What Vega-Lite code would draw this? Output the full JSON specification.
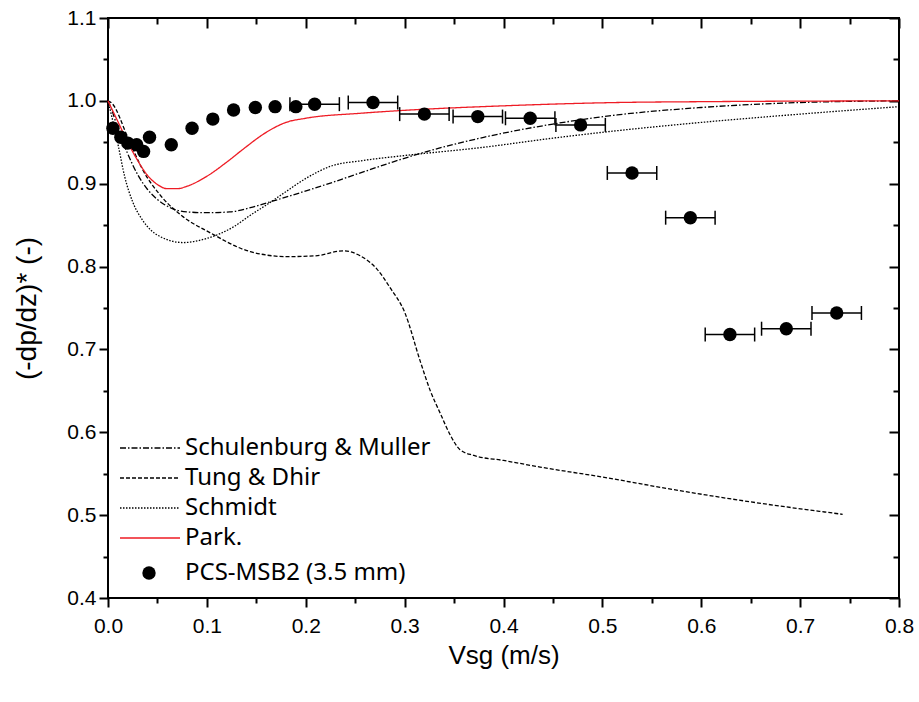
{
  "$schema": "https://vega.github.io/schema/vega-lite/v6.json",
  "width": 791,
  "height": 580,
  "autosize": {"type": "none"},
  "padding": {"left": 108, "top": 18, "right": 20, "bottom": 104},
  "background": "white",
  "config": {
    "view": {"stroke": "black", "strokeWidth": 2},
    "axis": {
      "grid": false,
      "domain": false,
      "labelFlush": false,
      "tickColor": "black",
      "tickWidth": 2,
      "labelColor": "black",
      "labelFont": "Liberation Sans Narrow, Liberation Sans, Arial",
      "labelFontSize": 21,
      "titleFont": "Liberation Sans Narrow, Liberation Sans, Arial",
      "titleFontSize": 26,
      "titleFontWeight": "normal",
      "titleColor": "black"
    },
    "legend": {
      "labelFont": "Noto Sans", "labelFontSize": 24, "labelColor": "black", "labelLimit": 400, "padding": 0
    }
  },
  "datasets": {
    "curves": [
      {"s": "Schulenburg & Muller", "x": 0.0, "y": 1.0},
      {"s": "Schulenburg & Muller", "x": 0.005, "y": 0.985},
      {"s": "Schulenburg & Muller", "x": 0.01, "y": 0.966},
      {"s": "Schulenburg & Muller", "x": 0.02, "y": 0.936},
      {"s": "Schulenburg & Muller", "x": 0.03, "y": 0.911},
      {"s": "Schulenburg & Muller", "x": 0.04, "y": 0.893},
      {"s": "Schulenburg & Muller", "x": 0.05, "y": 0.881},
      {"s": "Schulenburg & Muller", "x": 0.063, "y": 0.871},
      {"s": "Schulenburg & Muller", "x": 0.08, "y": 0.866},
      {"s": "Schulenburg & Muller", "x": 0.1, "y": 0.865},
      {"s": "Schulenburg & Muller", "x": 0.123, "y": 0.866},
      {"s": "Schulenburg & Muller", "x": 0.144, "y": 0.871},
      {"s": "Schulenburg & Muller", "x": 0.161, "y": 0.877},
      {"s": "Schulenburg & Muller", "x": 0.194, "y": 0.889},
      {"s": "Schulenburg & Muller", "x": 0.228, "y": 0.902},
      {"s": "Schulenburg & Muller", "x": 0.26, "y": 0.915},
      {"s": "Schulenburg & Muller", "x": 0.29, "y": 0.927},
      {"s": "Schulenburg & Muller", "x": 0.326, "y": 0.940},
      {"s": "Schulenburg & Muller", "x": 0.38, "y": 0.956},
      {"s": "Schulenburg & Muller", "x": 0.45, "y": 0.972},
      {"s": "Schulenburg & Muller", "x": 0.515, "y": 0.983},
      {"s": "Schulenburg & Muller", "x": 0.6, "y": 0.992},
      {"s": "Schulenburg & Muller", "x": 0.7, "y": 0.998},
      {"s": "Schulenburg & Muller", "x": 0.8, "y": 1.0},
      {"s": "Tung & Dhir", "x": 0.0, "y": 1.0},
      {"s": "Tung & Dhir", "x": 0.004, "y": 0.997},
      {"s": "Tung & Dhir", "x": 0.02, "y": 0.956},
      {"s": "Tung & Dhir", "x": 0.035, "y": 0.917},
      {"s": "Tung & Dhir", "x": 0.053, "y": 0.886},
      {"s": "Tung & Dhir", "x": 0.075, "y": 0.861},
      {"s": "Tung & Dhir", "x": 0.103, "y": 0.841},
      {"s": "Tung & Dhir", "x": 0.144, "y": 0.818},
      {"s": "Tung & Dhir", "x": 0.181, "y": 0.812},
      {"s": "Tung & Dhir", "x": 0.21, "y": 0.813},
      {"s": "Tung & Dhir", "x": 0.238, "y": 0.819},
      {"s": "Tung & Dhir", "x": 0.255, "y": 0.813},
      {"s": "Tung & Dhir", "x": 0.272, "y": 0.797},
      {"s": "Tung & Dhir", "x": 0.285, "y": 0.775},
      {"s": "Tung & Dhir", "x": 0.3, "y": 0.745},
      {"s": "Tung & Dhir", "x": 0.316, "y": 0.685},
      {"s": "Tung & Dhir", "x": 0.326, "y": 0.650},
      {"s": "Tung & Dhir", "x": 0.336, "y": 0.623},
      {"s": "Tung & Dhir", "x": 0.346, "y": 0.597},
      {"s": "Tung & Dhir", "x": 0.356, "y": 0.579},
      {"s": "Tung & Dhir", "x": 0.37, "y": 0.572},
      {"s": "Tung & Dhir", "x": 0.4, "y": 0.566},
      {"s": "Tung & Dhir", "x": 0.437, "y": 0.558},
      {"s": "Tung & Dhir", "x": 0.5, "y": 0.546},
      {"s": "Tung & Dhir", "x": 0.571, "y": 0.531},
      {"s": "Tung & Dhir", "x": 0.65, "y": 0.516},
      {"s": "Tung & Dhir", "x": 0.743, "y": 0.501},
      {"s": "Schmidt", "x": 0.0, "y": 1.0},
      {"s": "Schmidt", "x": 0.005, "y": 0.975},
      {"s": "Schmidt", "x": 0.01, "y": 0.948},
      {"s": "Schmidt", "x": 0.017, "y": 0.908},
      {"s": "Schmidt", "x": 0.025, "y": 0.878},
      {"s": "Schmidt", "x": 0.035, "y": 0.856},
      {"s": "Schmidt", "x": 0.053, "y": 0.836},
      {"s": "Schmidt", "x": 0.076, "y": 0.829},
      {"s": "Schmidt", "x": 0.1, "y": 0.834},
      {"s": "Schmidt", "x": 0.127, "y": 0.848},
      {"s": "Schmidt", "x": 0.144, "y": 0.862},
      {"s": "Schmidt", "x": 0.161, "y": 0.875},
      {"s": "Schmidt", "x": 0.177, "y": 0.888},
      {"s": "Schmidt", "x": 0.201, "y": 0.907},
      {"s": "Schmidt", "x": 0.225, "y": 0.921},
      {"s": "Schmidt", "x": 0.258, "y": 0.928},
      {"s": "Schmidt", "x": 0.3, "y": 0.934},
      {"s": "Schmidt", "x": 0.38, "y": 0.944},
      {"s": "Schmidt", "x": 0.45, "y": 0.955},
      {"s": "Schmidt", "x": 0.515, "y": 0.964},
      {"s": "Schmidt", "x": 0.6, "y": 0.974},
      {"s": "Schmidt", "x": 0.7, "y": 0.984},
      {"s": "Schmidt", "x": 0.8, "y": 0.993},
      {"s": "Park.", "x": 0.0, "y": 1.0},
      {"s": "Park.", "x": 0.01, "y": 0.975},
      {"s": "Park.", "x": 0.02, "y": 0.950},
      {"s": "Park.", "x": 0.03, "y": 0.928},
      {"s": "Park.", "x": 0.04, "y": 0.910},
      {"s": "Park.", "x": 0.05, "y": 0.899},
      {"s": "Park.", "x": 0.06, "y": 0.894},
      {"s": "Park.", "x": 0.07, "y": 0.894},
      {"s": "Park.", "x": 0.08, "y": 0.897},
      {"s": "Park.", "x": 0.1, "y": 0.909},
      {"s": "Park.", "x": 0.12, "y": 0.926},
      {"s": "Park.", "x": 0.137, "y": 0.942},
      {"s": "Park.", "x": 0.16, "y": 0.962},
      {"s": "Park.", "x": 0.18, "y": 0.974},
      {"s": "Park.", "x": 0.2, "y": 0.979},
      {"s": "Park.", "x": 0.255, "y": 0.985},
      {"s": "Park.", "x": 0.292, "y": 0.988},
      {"s": "Park.", "x": 0.4, "y": 0.994},
      {"s": "Park.", "x": 0.515, "y": 0.998},
      {"s": "Park.", "x": 0.6, "y": 0.999},
      {"s": "Park.", "x": 0.8, "y": 1.0}
    ],
    "pts": [
      {"s": "PCS-MSB2 (3.5 mm)", "x": 0.005, "y": 0.967},
      {"s": "PCS-MSB2 (3.5 mm)", "x": 0.013, "y": 0.956},
      {"s": "PCS-MSB2 (3.5 mm)", "x": 0.020, "y": 0.949},
      {"s": "PCS-MSB2 (3.5 mm)", "x": 0.029, "y": 0.947},
      {"s": "PCS-MSB2 (3.5 mm)", "x": 0.036, "y": 0.939},
      {"s": "PCS-MSB2 (3.5 mm)", "x": 0.042, "y": 0.956},
      {"s": "PCS-MSB2 (3.5 mm)", "x": 0.064, "y": 0.947},
      {"s": "PCS-MSB2 (3.5 mm)", "x": 0.085, "y": 0.967},
      {"s": "PCS-MSB2 (3.5 mm)", "x": 0.106, "y": 0.978},
      {"s": "PCS-MSB2 (3.5 mm)", "x": 0.127, "y": 0.989},
      {"s": "PCS-MSB2 (3.5 mm)", "x": 0.149, "y": 0.992},
      {"s": "PCS-MSB2 (3.5 mm)", "x": 0.169, "y": 0.993},
      {"s": "PCS-MSB2 (3.5 mm)", "x": 0.19, "y": 0.993},
      {"s": "PCS-MSB2 (3.5 mm)", "x": 0.209, "y": 0.996, "lo": 0.184, "hi": 0.234},
      {"s": "PCS-MSB2 (3.5 mm)", "x": 0.268, "y": 0.998, "lo": 0.243, "hi": 0.293},
      {"s": "PCS-MSB2 (3.5 mm)", "x": 0.32, "y": 0.984, "lo": 0.295, "hi": 0.345},
      {"s": "PCS-MSB2 (3.5 mm)", "x": 0.374, "y": 0.981, "lo": 0.349, "hi": 0.399},
      {"s": "PCS-MSB2 (3.5 mm)", "x": 0.427, "y": 0.979, "lo": 0.402, "hi": 0.452},
      {"s": "PCS-MSB2 (3.5 mm)", "x": 0.478, "y": 0.971, "lo": 0.453, "hi": 0.503},
      {"s": "PCS-MSB2 (3.5 mm)", "x": 0.53, "y": 0.913, "lo": 0.505, "hi": 0.555},
      {"s": "PCS-MSB2 (3.5 mm)", "x": 0.589, "y": 0.859, "lo": 0.564, "hi": 0.614},
      {"s": "PCS-MSB2 (3.5 mm)", "x": 0.629, "y": 0.718, "lo": 0.604, "hi": 0.654},
      {"s": "PCS-MSB2 (3.5 mm)", "x": 0.686, "y": 0.725, "lo": 0.661, "hi": 0.711},
      {"s": "PCS-MSB2 (3.5 mm)", "x": 0.737, "y": 0.744, "lo": 0.712, "hi": 0.762}
    ]
  },
  "layer": [
    {
      "data": {"name": "curves"},
      "mark": {"type": "line", "interpolate": "monotone"},
      "encoding": {
        "x": {
          "field": "x", "type": "quantitative",
          "scale": {"domain": [0, 0.8], "nice": false, "zero": false},
          "axis": {"orient": "bottom", "values": [0, 0.1, 0.2, 0.3, 0.4, 0.5, 0.6, 0.7, 0.8], "format": ".1f", "tickSize": 9, "labelPadding": 8, "title": "Vsg (m/s)", "titlePadding": 6}
        },
        "y": {
          "field": "y", "type": "quantitative",
          "scale": {"domain": [0.4, 1.1], "nice": false, "zero": false},
          "axis": {"orient": "left", "values": [0.4, 0.5, 0.6, 0.7, 0.8, 0.9, 1.0, 1.1], "format": ".1f", "tickSize": 9, "labelPadding": 3, "title": "(-dp/dz)* (-)", "titleFont": "Liberation Sans, Arial", "titleFontSize": 28, "titlePadding": 25}
        },
        "color": {
          "field": "s", "type": "nominal",
          "scale": {"domain": ["Schulenburg & Muller", "Tung & Dhir", "Schmidt", "Park."], "range": ["black", "black", "black", "#ee1c25"]},
          "legend": {
            "orient": "none", "legendX": 30, "legendY": 418, "title": null,
            "symbolType": "M-3,0H3", "symbolSize": 400, "symbolStrokeWidth": 1.5,
            "labelOffset": 23, "rowPadding": 6
          }
        },
        "strokeDash": {
          "field": "s", "type": "nominal",
          "scale": {"domain": ["Schulenburg & Muller", "Tung & Dhir", "Schmidt", "Park."], "range": [[6, 2, 1.5, 2], [4, 2], [1.5, 1.5], [1, 0]]},
          "legend": {
            "orient": "none", "legendX": 30, "legendY": 418, "title": null,
            "symbolType": "M-3,0H3", "symbolSize": 400, "symbolStrokeWidth": 1.5,
            "labelOffset": 23, "rowPadding": 6
          }
        },
        "strokeWidth": {
          "field": "s", "type": "nominal",
          "scale": {"domain": ["Schulenburg & Muller", "Tung & Dhir", "Schmidt", "Park."], "range": [1.3, 1.3, 1.3, 2.2]},
          "legend": null
        }
      }
    },
    {
      "data": {"name": "pts"},
      "transform": [{"filter": "isValid(datum.lo)"}],
      "mark": {"type": "rule", "color": "black", "strokeWidth": 1.5},
      "encoding": {
        "x": {"field": "lo", "type": "quantitative", "axis": {"orient": "top", "offset": -10, "values": [0, 0.1, 0.2, 0.3, 0.4, 0.5, 0.6, 0.7, 0.8], "labels": false, "tickSize": 10, "title": null}},
        "x2": {"field": "hi"},
        "y": {"field": "y", "type": "quantitative", "axis": {"orient": "right", "offset": -10, "values": [0.4, 0.5, 0.6, 0.7, 0.8, 0.9, 1.0, 1.1], "labels": false, "tickSize": 10, "title": null}}
      }
    },
    {
      "data": {"name": "pts"},
      "transform": [{"filter": "isValid(datum.lo)"}],
      "mark": {"type": "tick", "orient": "vertical", "size": 14, "thickness": 1.5, "color": "black", "opacity": 1},
      "encoding": {
        "x": {"field": "lo", "type": "quantitative", "axis": {"orient": "bottom", "values": [0.05, 0.15, 0.25, 0.35, 0.45, 0.55, 0.65, 0.75], "labels": false, "tickSize": 5, "title": null}},
        "y": {"field": "y", "type": "quantitative", "axis": {"orient": "left", "values": [0.45, 0.55, 0.65, 0.75, 0.85, 0.95, 1.05], "labels": false, "tickSize": 5, "title": null}}
      }
    },
    {
      "data": {"name": "pts"},
      "transform": [{"filter": "isValid(datum.hi)"}],
      "mark": {"type": "tick", "orient": "vertical", "size": 14, "thickness": 1.5, "color": "black", "opacity": 1},
      "encoding": {
        "x": {"field": "hi", "type": "quantitative", "axis": {"orient": "top", "offset": -6, "values": [0.05, 0.15, 0.25, 0.35, 0.45, 0.55, 0.65, 0.75], "labels": false, "tickSize": 6, "title": null}},
        "y": {"field": "y", "type": "quantitative", "axis": {"orient": "right", "offset": -6, "values": [0.45, 0.55, 0.65, 0.75, 0.85, 0.95, 1.05], "labels": false, "tickSize": 6, "title": null}}
      }
    },
    {
      "data": {"name": "pts"},
      "mark": {"type": "point", "filled": true, "size": 180, "color": "black", "opacity": 1},
      "encoding": {
        "x": {"field": "x", "type": "quantitative", "axis": null},
        "y": {"field": "y", "type": "quantitative", "axis": null},
        "shape": {
          "field": "s", "type": "nominal",
          "scale": {"domain": ["PCS-MSB2 (3.5 mm)"], "range": ["circle"]},
          "legend": {
            "orient": "none", "legendX": 29, "legendY": 543, "title": null,
            "symbolSize": 180, "symbolFillColor": "black", "symbolStrokeColor": "black",
            "labelOffset": 24
          }
        }
      }
    }
  ],
  "resolve": {"axis": {"x": "independent", "y": "independent"}}
}
